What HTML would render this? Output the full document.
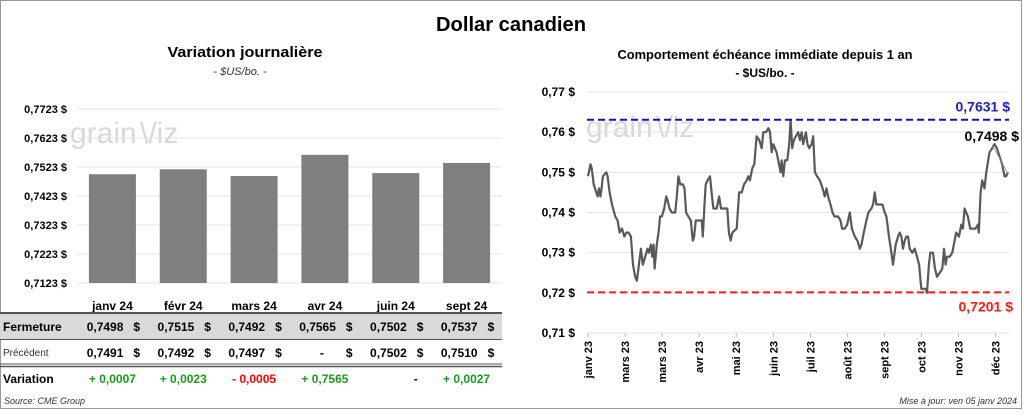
<!DOCTYPE html>
<html><head><meta charset="utf-8">
<style>
body{margin:0;width:1024px;height:410px;overflow:hidden;background:#fff;font-family:"Liberation Sans",sans-serif;}
#root{position:relative;width:1024px;height:410px;}
.t{position:absolute;white-space:nowrap;}
svg text{font-family:"Liberation Sans",sans-serif;}
</style></head>
<body>
<div id="root">
<svg width="1024" height="410" id="svg">
<rect x="0.5" y="0.5" width="1021" height="408" fill="none" stroke="#999"/>
<text x="511" y="31" font-size="20" font-weight="bold" text-anchor="middle" textLength="150" lengthAdjust="spacingAndGlyphs">Dollar canadien</text>
<text x="245" y="57" font-size="15" font-weight="bold" text-anchor="middle" textLength="155" lengthAdjust="spacingAndGlyphs">Variation  journalière</text>
<text x="240" y="75" font-size="11" font-style="italic" fill="#333" text-anchor="middle">- $US/bo. -</text>
<text x="765" y="59" font-size="13" font-weight="bold" text-anchor="middle" textLength="295" lengthAdjust="spacingAndGlyphs">Comportement échéance immédiate depuis 1 an</text>
<text x="765" y="77" font-size="12" font-weight="bold" text-anchor="middle">- $US/bo. -</text>
<text x="70" y="143" font-size="30" fill="#d8d8d8">grain</text>
<text x="140" y="143" font-size="30" fill="#d8d8d8">\/iz</text>
<text x="586" y="137" font-size="30" fill="#d8d8d8">grain</text>
<text x="656" y="137" font-size="30" fill="#d8d8d8">\/iz</text>
<g id="left"></g>
<g id="table"></g>
<g id="right"></g>
<text x="4" y="404" font-size="9" font-style="italic" fill="#333">Source: CME Group</text>
<text x="1017" y="404" font-size="9" font-style="italic" fill="#333" text-anchor="end">Mise à jour: ven 05 janv 2024</text>
</svg>
</div>
<script>
const barCats=["janv 24","févr 24","mars 24","avr 24","juin 24","sept 24"];
const barValues=[0.7498,0.7515,0.7492,0.7565,0.7502,0.7537];
const leftTicks=[0.7123,0.7223,0.7323,0.7423,0.7523,0.7623,0.7723];
const closeLabels=["0,7498","0,7515","0,7492","0,7565","0,7502","0,7537"];
const prevLabels=["0,7491","0,7492","0,7497","-","0,7502","0,7510"];
const varLabels=["+ 0,0007","+ 0,0023","- 0,0005","+ 0,7565","-","+ 0,0027"];
const varColors=["#1a9a1a","#1a9a1a","#ff0000","#1a9a1a","#000","#1a9a1a"];

const rightTicks=[0.71,0.72,0.73,0.74,0.75,0.76,0.77];
const monthLabels=["janv 23","mars 23","mars 23","avr 23","mai 23","juin 23","juil 23","août 23","sept 23","oct 23","nov 23","déc 23"];
const days=[0,2,3,4.6,6.7,7.8,8.9,10,11,12.1,14.8,15.9,17.5,19.4,22.1,24,25.6,27.5,29.4,31,32.9,34.7,36.4,38.2,39.6,41.2,42.8,44.4,46.3,48.2,49.3,50.9,52,53.1,53.9,55.7,57.1,58.4,59.8,61.7,63.3,64.4,66,67.9,70.6,71.9,73.2,74.6,76.8,78.1,79.4,81.3,83.2,84.8,85.9,87.3,89.4,92.1,92.9,94.3,95.3,96.7,98.8,100.4,101.5,104.2,106.1,107.7,110.1,112.8,114.1,115.5,116.9,120.4,122.3,124.4,126.3,128.5,129.8,131.1,133,134.6,136.5,138.7,140.6,141.9,144.1,146,147.3,148.7,150,151.3,152.7,154,155.9,156.7,158.1,159.4,161.3,162.9,164,165.3,166.7,168.3,170.2,171.5,172.9,174.2,176.4,177.7,179.1,181,182.3,183.7,185.5,187.7,189.9,191.7,193.1,194.4,196.3,197.9,199.6,202.5,204.4,205.7,207.9,209.8,211.9,213.6,216,218.1,220,221.4,223.3,225.4,227,229.4,230.8,232.1,233.5,235.6,238.3,240.2,241.6,243.7,245.6,246.9,249.1,251,252.3,253.7,255,256.4,257.7,259.1,260.4,262.6,264.5,266.3,268,269.8,271.7,273.3,274.4,276,277.1,279.3,280.9,282.5,284.7,286.8,288.2,289.5,290.6,292.7,294.9,296.8,298.1,300.3,302.2,303.5,304.9,306.2,307.5,309.4,311.6,313.7,315.6,316.4,317.8,319.1,321,322.4,325,327.2,329.1,331,333.1,335.3,337.2,338.5,339.9];
const prices=[0.749,0.752,0.751,0.747,0.745,0.744,0.746,0.744,0.746,0.749,0.750,0.749,0.745,0.742,0.739,0.738,0.735,0.736,0.734,0.735,0.735,0.734,0.727,0.724,0.723,0.727,0.731,0.727,0.729,0.731,0.730,0.732,0.729,0.732,0.726,0.732,0.735,0.739,0.739,0.741,0.744,0.743,0.741,0.740,0.740,0.744,0.749,0.747,0.747,0.746,0.740,0.739,0.738,0.733,0.734,0.738,0.738,0.738,0.734,0.742,0.747,0.748,0.749,0.744,0.741,0.741,0.744,0.741,0.741,0.741,0.735,0.733,0.735,0.736,0.745,0.745,0.747,0.748,0.749,0.748,0.751,0.752,0.759,0.758,0.756,0.760,0.760,0.761,0.760,0.755,0.757,0.756,0.755,0.753,0.750,0.753,0.749,0.753,0.753,0.757,0.763,0.756,0.758,0.759,0.760,0.758,0.760,0.757,0.760,0.757,0.756,0.757,0.759,0.750,0.749,0.748,0.746,0.744,0.746,0.744,0.742,0.740,0.739,0.739,0.738,0.736,0.736,0.737,0.740,0.736,0.734,0.733,0.731,0.732,0.735,0.738,0.740,0.741,0.742,0.745,0.742,0.742,0.742,0.740,0.739,0.734,0.730,0.727,0.732,0.734,0.735,0.734,0.731,0.733,0.734,0.734,0.731,0.730,0.731,0.729,0.727,0.721,0.721,0.721,0.720,0.727,0.730,0.730,0.726,0.724,0.725,0.726,0.731,0.727,0.729,0.729,0.730,0.733,0.735,0.734,0.737,0.736,0.741,0.740,0.739,0.736,0.736,0.736,0.737,0.735,0.745,0.748,0.746,0.750,0.755,0.756,0.757,0.756,0.754,0.752,0.749,0.749,0.750];
const maxVal=0.7631, minVal=0.7201, lastVal=0.7498;
const maxLabel="0,7631 $", minLabel="0,7201 $", lastLabel="0,7498 $";

const NS="http://www.w3.org/2000/svg";
function mk(parent,tag,attrs,txt){const e=document.createElementNS(NS,tag);for(const k in attrs)e.setAttribute(k,attrs[k]);if(txt!==undefined)e.textContent=txt;parent.appendChild(e);return e;}
function fmt(v,d){return v.toFixed(d).replace('.',',')+' $';}

// left bar chart
const L=document.getElementById('left');
const lx0=77,lx1=502,ly0=283,ly1=109,lmin=0.7123,lmax=0.7723;
const ly=v=>ly0+(v-lmin)/(lmax-lmin)*(ly1-ly0);
const band=(lx1-lx0)/barCats.length;
const bx=i=>lx0+band*(i+0.5);
leftTicks.forEach(t=>{
  const g=mk(L,'line',{x1:lx0,x2:lx1,y1:ly(t),y2:ly(t),stroke:'#e3e3e3','stroke-width':1});
  
  const tx=mk(L,'text',{x:67,y:ly(t)+4,'font-size':11,'font-weight':'bold','text-anchor':'end'},fmt(t,4));
  
});
barValues.forEach((v,i)=>{
  const r=mk(L,'rect',{x:bx(i)-23.5,y:ly(v),width:47,height:ly0-ly(v),fill:'#7f7f7f'});
  
  const c=mk(L,'text',{x:bx(i),y:310,'font-size':12,'font-weight':'bold','text-anchor':'middle'},barCats[i]);
  
});

// table
const T=document.getElementById('table');
const bg=mk(T,'rect',{x:0,y:314,width:502,height:25,fill:'#d9d9d9'});

[[313,2,'#555'],[339.5,1,'#555'],[364,1,'#555'],[366.5,1.5,'#555']].forEach(a=>{
  const l=mk(T,'line',{x1:0,x2:502,y1:a[0],y2:a[0],stroke:a[2],'stroke-width':a[1]});
  
});
const rl=[['Fermeture',331,12,'bold'],['Précédent',356,10,'normal'],['Variation',383,12,'bold']];
rl.forEach(r=>{const e=mk(T,'text',{x:3,y:r[1],'font-size':r[2],'font-weight':r[3],fill:r[0]==='Précédent'?'#333':'#000'},r[0]);
  });
barCats.forEach((c,i)=>{
  const cx=bx(i);
  let e=mk(T,'text',{x:cx+11,y:331,'font-size':12,'font-weight':'bold','text-anchor':'end'},closeLabels[i]);
  
  e=mk(T,'text',{x:cx+21,y:331,'font-size':12,'font-weight':'bold'},'$');
  
  const px=prevLabels[i]==='-'?cx-1:cx+11;
  e=mk(T,'text',{x:px,y:357,'font-size':12,'font-weight':'bold','text-anchor':'end'},prevLabels[i]);
  
  e=mk(T,'text',{x:cx+21,y:357,'font-size':12,'font-weight':'bold'},'$');
  
  const vx=varLabels[i]==='-'?cx+22:cx;
  e=mk(T,'text',{x:vx,y:383,'font-size':12,'font-weight':'bold','text-anchor':varLabels[i]==='-'?'end':'middle',fill:varColors[i]},varLabels[i]);
  
});

// right line chart
const R=document.getElementById('right');
const rx0=588,rx1=1008,ry0=333,ry1=92,rmin=0.71,rmax=0.77,dmax=340;
const rx=d=>rx0+d/dmax*(rx1-rx0);
const ry=v=>ry0+(v-rmin)/(rmax-rmin)*(ry1-ry0);
rightTicks.forEach(t=>{
  const g=mk(R,'line',{x1:587,x2:1009,y1:ry(t),y2:ry(t),stroke:'#e3e3e3','stroke-width':1});
  
  const tx=mk(R,'text',{x:575,y:ry(t)+4,'font-size':12,'font-weight':'bold','text-anchor':'end'},fmt(t,2));
  
});
monthLabels.forEach((m,i)=>{
  const x=rx(i*30);
  const tk=mk(R,'line',{x1:x,x2:x,y1:333,y2:337,stroke:'#bbb'});
  
  const tx=mk(R,'text',{transform:`translate(${x+4},341) rotate(-90)`,'font-size':11,'font-weight':'bold','text-anchor':'end'},m);
  
});
let dd=days.map((d,i)=>(i?'L':'M')+rx(d).toFixed(1)+','+ry(prices[i]).toFixed(1)).join('');
const ln=mk(R,'path',{d:dd,fill:'none',stroke:'#595959','stroke-width':2.2,'stroke-linejoin':'round'});

let e=mk(R,'line',{x1:587,x2:1009,y1:ry(maxVal),y2:ry(maxVal),stroke:'#1010c0','stroke-width':2,'stroke-dasharray':'7,4'});

e=mk(R,'line',{x1:587,x2:1009,y1:ry(minVal),y2:ry(minVal),stroke:'#ff1a1a','stroke-width':2,'stroke-dasharray':'7,4'});

e=mk(R,'text',{x:1010,y:ry(maxVal)-8,'font-size':14,'font-weight':'bold',fill:'#2020c0','text-anchor':'end'},maxLabel);

e=mk(R,'text',{x:1013,y:ry(minVal)+19,'font-size':14,'font-weight':'bold',fill:'#ff1a1a','text-anchor':'end'},minLabel);

e=mk(R,'text',{x:1019,y:141,'font-size':14,'font-weight':'bold','text-anchor':'end'},lastLabel);

e=mk(R,'line',{x1:992,y1:145,x2:rx(days[days.length-1]),y2:ry(lastVal),stroke:'#999','stroke-width':0.8});

</script>
</body></html>
